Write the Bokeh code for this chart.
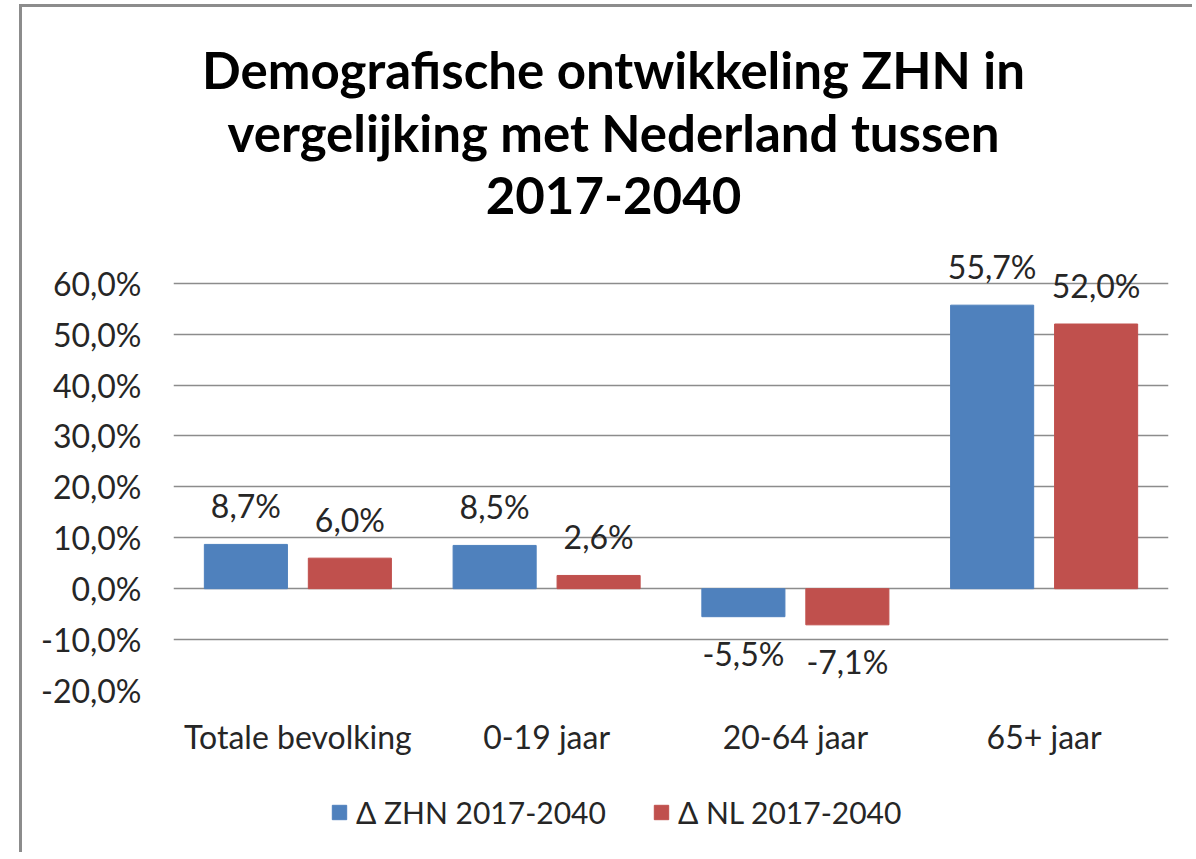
from bokeh.plotting import figure
from bokeh.layouts import column
from bokeh.models import (ColumnDataSource, FactorRange, Range1d, FixedTicker, LabelSet,
                          Label, Legend, LegendItem)
from bokeh.transform import dodge
from bokeh.core.properties import value
from bokeh.embed import file_html
from bokeh.resources import INLINE

# ---- data ----
categories = ["Totale bevolking", "0-19 jaar", "20-64 jaar", "65+ jaar"]
zhn = [8.7, 8.5, -5.5, 55.7]
nl = [6.0, 2.6, -7.1, 52.0]
series_names = ["\u0394 ZHN 2017-2040", "\u0394 NL 2017-2040"]
y_ticks = [-20, -10, 0, 10, 20, 30, 40, 50, 60]
y_tick_labels = ["-20,0%", "-10,0%", "0,0%", "10,0%", "20,0%", "30,0%", "40,0%", "50,0%", "60,0%"]
title_lines = ["Demografische ontwikkeling ZHN in",
               "vergelijking met Nederland tussen",
               "2017-2040"]

BLUE = "#4F81BD"
RED = "#C0504D"
TXT = "#262626"
FONT = "Lato"
FS = "32px"
W = 1170
ML, MR = 151, 24   # frame borders of the main chart (shared by the column)


def fmt(v):
    return ("%.1f" % v).replace(".", ",") + "%"


def offs(vals):
    return [26 if v >= 0 else -49 for v in vals]


def bare(fig):
    fig.grid.visible = False
    fig.outline_line_color = None
    fig.background_fill_color = "white"
    fig.border_fill_color = "white"


# ---- title panel ----
TH = 238
tfig = figure(width=W, height=TH, x_range=Range1d(ML, W - MR), y_range=Range1d(0, TH),
              x_axis_location=None, y_axis_location=None,
              output_backend="svg", toolbar_location=None, title=None,
              min_border=0, min_border_left=0, min_border_right=0,
              min_border_top=0, min_border_bottom=0)
bare(tfig)
for i, line in enumerate(title_lines):
    tfig.add_layout(Label(x=591, y=176 - 63 * i, text=line,
                          text_align="center", text_baseline="alphabetic",
                          text_font=FONT, text_font_style="bold",
                          text_font_size="51px", text_color="#000000"))

# ---- main chart ----
src = ColumnDataSource(dict(
    cat=categories, zhn=zhn, nl=nl,
    zhn_lbl=[fmt(v) for v in zhn], nl_lbl=[fmt(v) for v in nl],
    zhn_off=offs(zhn), nl_off=offs(nl),
))

p = figure(x_range=FactorRange(factors=categories, range_padding=0),
           y_range=Range1d(-20, 65.85),
           width=W, height=535, output_backend="svg", toolbar_location=None,
           title=None,
           min_border_left=ML, min_border_right=MR, min_border_top=8, min_border_bottom=90)
p.outline_line_color = None
p.background_fill_color = "white"
p.border_fill_color = "white"

BW = 0.334
OFF = 0.209
r1 = p.vbar(x=dodge("cat", -OFF, range=p.x_range), top="zhn", bottom=0, width=BW,
            source=src, fill_color=BLUE, line_color=BLUE)
r2 = p.vbar(x=dodge("cat", OFF, range=p.x_range), top="nl", bottom=0, width=BW,
            source=src, fill_color=RED, line_color=RED)

for xoff, col, lbl, off in [(-OFF, "zhn", "zhn_lbl", "zhn_off"), (OFF, "nl", "nl_lbl", "nl_off")]:
    ls = LabelSet(x=dodge("cat", xoff, range=p.x_range), y=col, text=lbl, y_offset=off,
                  source=src, text_align="center", text_baseline="alphabetic",
                  text_font=value(FONT), text_font_size=FS, text_color=TXT, level="overlay")
    p.add_layout(ls)

p.xgrid.grid_line_color = None
p.ygrid.ticker = FixedTicker(ticks=y_ticks)
p.ygrid.grid_line_color = "#8c8c8c"
p.ygrid.grid_line_width = 1.7

p.yaxis.ticker = FixedTicker(ticks=y_ticks)
p.yaxis.major_label_overrides = {t: l for t, l in zip(y_ticks, y_tick_labels)}
for ax in (p.xaxis[0], p.yaxis[0]):
    ax.axis_line_color = None
    ax.major_tick_line_color = None
    ax.minor_tick_line_color = None
    ax.major_label_text_font = FONT
    ax.major_label_text_font_size = FS
    ax.major_label_text_color = TXT
p.yaxis.major_label_standoff = 26
p.xaxis.major_label_standoff = 20

# ---- legend panel ----
LH = 72
lfig = figure(width=W, height=LH, x_range=Range1d(0, 1), y_range=Range1d(1, 2),
              x_axis_location=None, y_axis_location=None,
              output_backend="svg", toolbar_location=None, title=None,
              min_border=0, min_border_left=0, min_border_right=0,
              min_border_top=0, min_border_bottom=0)
bare(lfig)
lr1 = lfig.vbar(x=[0.5], top=[0], bottom=[0], width=0.1, fill_color=BLUE, line_color=BLUE)
lr2 = lfig.vbar(x=[0.5], top=[0], bottom=[0], width=0.1, fill_color=RED, line_color=RED)
legend = Legend(items=[LegendItem(label=series_names[0], renderers=[lr1]),
                       LegendItem(label=series_names[1], renderers=[lr2])],
                orientation="horizontal", location=(157, 22),
                glyph_width=18, glyph_height=18, label_standoff=8, spacing=46,
                padding=0, margin=0, border_line_color=None, background_fill_alpha=0,
                label_text_font=FONT, label_text_font_size="30px", label_text_color=TXT)
lfig.add_layout(legend, "center")

layout = column(tfig, p, lfig, spacing=0)
layout.styles = {"border-left": "3px solid #8c8c8c", "border-top": "3px solid #8c8c8c",
                 "margin-left": "19px", "margin-top": "4px"}

open("out.html", "w").write(file_html(layout, INLINE))
